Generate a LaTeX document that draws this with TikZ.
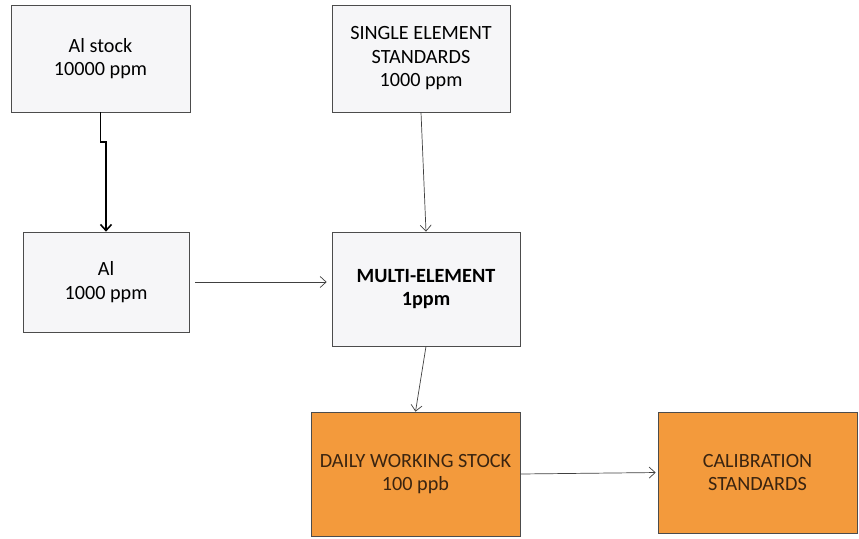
\documentclass[tikz,border=0pt]{standalone}
\usepackage{fontspec}
\setmainfont{Carlito}
\usetikzlibrary{arrows.meta,positioning}
\definecolor{boxgray}{HTML}{F6F6F8}
\definecolor{boxorange}{HTML}{F39A3C}
\definecolor{txtbrown}{HTML}{3A2410}

\begin{document}
\begin{tikzpicture}[x=0.02cm, y=-0.02cm,
    stage/.style={draw=black!70, align=center, inner sep=0pt, fill=boxgray, font=\fontsize{11.5}{13.4}\selectfont},
    dilution/.style={stage, fill=boxorange, text=txtbrown},
    edge/.style={-{Straight Barb[length=1.2mm,width=2.2mm]}, black!75, thin}
]
    \useasboundingbox (0,0) rectangle (859,538);

    \node[stage, minimum width=3.58cm, minimum height=2.14cm] (stock) at (100.5,58.5) {Al stock\\10000 ppm};
    \node[stage, minimum width=3.56cm, minimum height=2.14cm] (single) at (421,58.5) {SINGLE ELEMENT\\STANDARDS\\1000 ppm};
    \node[stage, minimum width=3.32cm, minimum height=2.0cm] (al) at (106,282) {Al\\1000 ppm};
    \node[stage, minimum width=3.76cm, minimum height=2.28cm, font=\fontsize{11.5}{13.4}\selectfont\bfseries] (multi) at (426,289) {MULTI-ELEMENT\\1ppm};
    \node[dilution, minimum width=4.18cm, minimum height=2.48cm] (daily) at (415.5,474) {DAILY WORKING STOCK\\100 ppb};
    \node[dilution, minimum width=3.98cm, minimum height=2.42cm] (calib) at (757.5,472.5) {CALIBRATION\\STANDARDS};

    \coordinate (jog) at (100.5,142);
    \draw[edge, black, line width=0.9pt] (stock.south) -- (jog) -| (al.north);
    \draw[edge] (single.south) -- (multi.north);
    \draw[edge, shorten <=0.12cm, shorten >=0.1cm] (al.east) -- (al.east -| multi.west);
    \draw[edge] (multi.south) -- (daily.north);
    \draw[edge, shorten >=0.04cm] (daily.east) -- (calib.west);
\end{tikzpicture}
\end{document}
